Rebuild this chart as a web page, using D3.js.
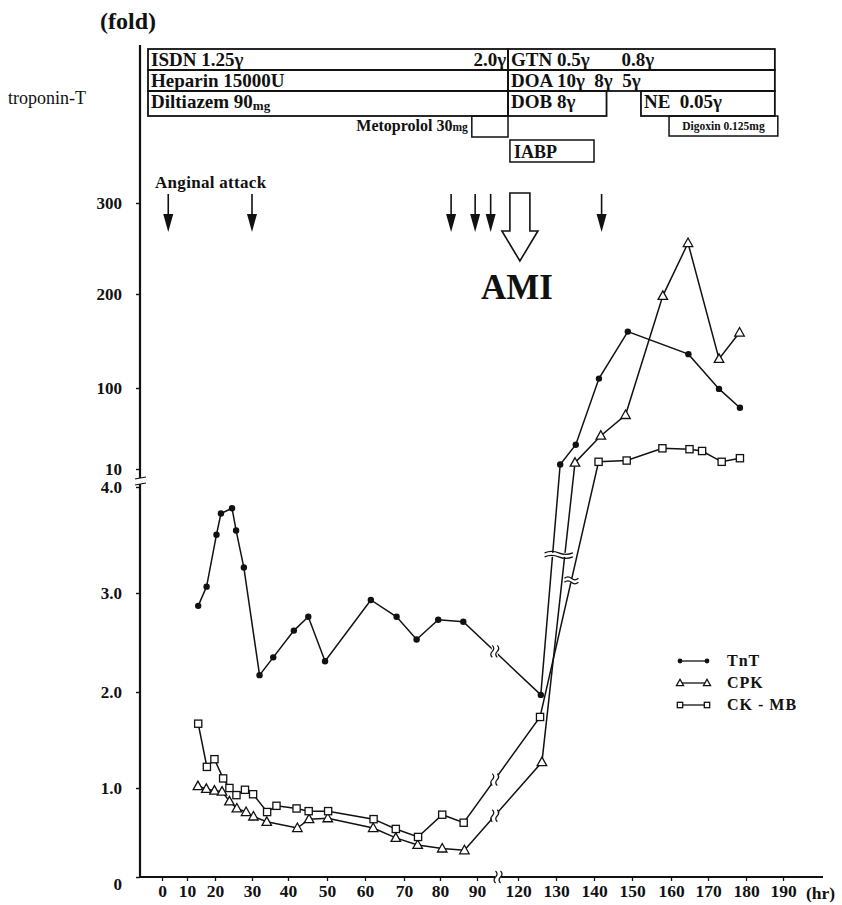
<!DOCTYPE html>
<html><head><meta charset="utf-8">
<script src="https://cdn.jsdelivr.net/npm/d3@7"></script>
<style>
body{margin:0;background:#fff}
svg{display:block}
text{font-family:"Liberation Serif","Times New Roman",serif;fill:#111}
.pre{white-space:pre}
</style>
</head><body>
<svg id="chart" width="842" height="905"></svg>
<script>
// ---- data -------------------------------------------------------------
const hourTicks = [0,10,20,30,40,50,60,70,80,90,120,130,140,150,160,170,180,190];
const foldTicks = [0,1,2,3,4,10,100,200,300];

const tntHours  = [14,17,20.4,21.6,24.6,25.7,27.8,32.1,35.9,41.5,45.2,49.5,61.5,68.1,73.5,79.5,86.3,126,131.1,135.2,141.3,148.9,164.7,172.9,178.4];
const tntValues = [2.87,3.06,3.55,3.75,3.80,3.59,3.24,2.17,2.35,2.62,2.76,2.31,2.93,2.76,2.53,2.73,2.71,1.97,15,37,110,160,136,99,78];

const cpkHours  = [13.9,16.9,19.8,21.9,23.9,25.9,28.4,30.4,34.1,42.4,45.4,50.2,62.1,67.9,73.8,80.6,86.6,126.3,135,141.8,148.3,157.9,164.6,172.9,178.3];
const cpkValues = [1.02,0.99,0.97,0.96,0.85,0.77,0.73,0.68,0.62,0.55,0.65,0.66,0.55,0.44,0.36,0.32,0.30,1.27,17,47,70,198,256,131,159];

const ckmbHours  = [14,17.1,19.8,22.2,23.9,25.8,28.1,30.3,34.2,36.8,42.2,45.3,50.3,62.2,67.9,73.9,80.6,86.4,125.8,141.2,148.6,157.8,165,168.4,173.6,178.4];
const ckmbValues = [1.67,1.22,1.30,1.10,1.0,0.92,0.98,0.93,0.73,0.80,0.77,0.74,0.74,0.65,0.54,0.45,0.70,0.61,1.74,18,19.4,33,32,30,18,22];

const seriesNames = ["TnT","CPK","CK - MB"];

// anginal attacks and the onset of AMI (hr)
const attackHours = [2.5,30,83,89.5,100,142];
const amiHour = 120.5;

// treatment bars (hr): row index, start, end, label parts
const infusions = [
  {row:0, from:-5.6, to:112.7, label:"ISDN 1.25γ", endLabel:"2.0γ"},
  {row:0, from:112.7, to:187.8, label:"GTN 0.5γ", stepLabel:"0.8γ", stepAt:143},
  {row:1, from:-5.6, to:112.7, label:"Heparin 15000U"},
  {row:1, from:112.7, to:187.8, label:"DOA 10γ  8γ  5γ"},
  {row:2, from:-5.6, to:112.7, label:"Diltiazem 90", unit:"mg"},
  {row:2, from:112.7, to:143.3, label:"DOB 8γ"},
  {row:2, from:152.3, to:187.8, label:"NE  0.05γ"}
];
const metoprolol = {from:88.6, to:112.7, label:"Metoprolol 30", unit:"mg"};
const digoxin = {from:159.5, to:188.6, label:"Digoxin 0.125mg"};
const iabp = {from:114.1, to:140, label:"IABP"};

const xBreakHour = 105.4;   // gap on the time axis
const lineBreakHour = 103;  // where the series cross the time gap
const yBreakFold = 6;       // gap on the fold axis

// ---- scales ----------------------------------------------------------
const svg = d3.select("#chart");
const x = d3.scaleLinear().domain(hourTicks)
  .range([162,187,215,252,288,327,365,404,440,477,518,556,594,632,671,708,746,783]);
const y = d3.scaleLinear().domain(foldTicks)
  .range([877,788,692,593,487,469,388,294,203]);

const axisX0 = 140, axisY0 = 877;

// ---- axes ------------------------------------------------------------
const fmt = d => d >= 10 || d === 0 ? String(d) : d.toFixed(1);
const yAxis = svg.append("g").attr("transform",`translate(${axisX0},0)`)
  .call(d3.axisLeft(y).tickValues(foldTicks).tickSize(4).tickPadding(14).tickFormat(fmt));
yAxis.select(".domain").remove();
yAxis.selectAll(".tick line").attr("stroke","#111").attr("stroke-width",1.4);
yAxis.selectAll(".tick text").attr("font-size",17).attr("font-weight","bold")
  .attr("font-family","Liberation Serif, serif").attr("fill","#111");
yAxis.selectAll(".tick").filter(d => d === 0).select("text").attr("dy","0.75em");

const xAxis = svg.append("g").attr("transform",`translate(0,${axisY0})`)
  .call(d3.axisBottom(x).tickValues(hourTicks).tickSize(4).tickPadding(4).tickFormat(d => d));
xAxis.select(".domain").remove();
xAxis.selectAll(".tick line").attr("stroke","#111").attr("stroke-width",1.3);
xAxis.selectAll(".tick text").attr("font-size",17.5).attr("font-weight","bold")
  .attr("font-family","Liberation Serif, serif").attr("fill","#111");

svg.append("line").attr("x1",axisX0).attr("x2",axisX0).attr("y1",45).attr("y2",axisY0)
  .attr("stroke","#111").attr("stroke-width",2.2);
svg.append("line").attr("x1",axisX0-1).attr("x2",823).attr("y1",axisY0).attr("y2",axisY0)
  .attr("stroke","#111").attr("stroke-width",2.2);
svg.append("text").attr("x",806).attr("y",axisY0+22).attr("font-size",17.5)
  .attr("font-weight","bold").text("(hr)");

// gap mark on the fold axis
const yb = y(yBreakFold);
svg.append("rect").attr("x",axisX0-3).attr("y",yb-3).attr("width",6).attr("height",6).attr("fill","#fff");
[-3,3].forEach(dy => svg.append("line").attr("x1",axisX0-5).attr("x2",axisX0+6)
  .attr("y1",yb+dy+1).attr("y2",yb+dy-1).attr("stroke","#111").attr("stroke-width",1.2));

// wavy gap marks
function vBreak(cx, cy, h) {
  svg.append("rect").attr("x",cx-3).attr("y",cy-h/2).attr("width",6).attr("height",h).attr("fill","#fff");
  [-2.5,2.5].forEach(dx => svg.append("path")
    .attr("d",`M${cx+dx},${cy-h/2} q3,${h/4} 0,${h/2} q-3,${h/4} 0,${h/2}`)
    .attr("fill","none").attr("stroke","#111").attr("stroke-width",1.2));
}
function hBreak(xa, xb, cy) {
  const w = xb - xa;
  svg.append("rect").attr("x",xa).attr("y",cy-2).attr("width",w).attr("height",4).attr("fill","#fff");
  [-2,2].forEach(dy => svg.append("path")
    .attr("d",`M${xa},${cy+dy} q${w/4},-3 ${w/2},0 t${w/2},0`)
    .attr("fill","none").attr("stroke","#111").attr("stroke-width",1.2));
}
vBreak(x(xBreakHour), axisY0, 12);

// ---- series ----------------------------------------------------------
const series = [
  {name:seriesNames[0], hours:tntHours, values:tntValues, mark:"dot"},
  {name:seriesNames[1], hours:cpkHours, values:cpkValues, mark:"tri"},
  {name:seriesNames[2], hours:ckmbHours, values:ckmbValues, mark:"sq"}
];
series.forEach(s => s.pts = s.hours.map((h,i) => [x(h), y(s.values[i])]));

const line = d3.line();
series.forEach(s => svg.append("path").attr("d",line(s.pts))
  .attr("fill","none").attr("stroke","#111").attr("stroke-width",1.5));

// position on a polyline at a given x or y pixel
function atX(pts, px){ for(let i=1;i<pts.length;i++){const a=pts[i-1],b=pts[i];
  if((a[0]-px)*(b[0]-px)<=0){const t=(px-a[0])/(b[0]-a[0]);return a[1]+t*(b[1]-a[1]);}} return null; }
function atY(pts, py){ for(let i=1;i<pts.length;i++){const a=pts[i-1],b=pts[i];
  if(a[0]>x(100) && (a[1]-py)*(b[1]-py)<=0){const t=(py-a[1])/(b[1]-a[1]);return a[0]+t*(b[0]-a[0]);}} return null; }

// time gap on each curve
const lbx = x(lineBreakHour);
series.forEach(s => vBreak(lbx, atX(s.pts,lbx), 12));
// fold gap on the rising limbs
const yMain = y(3.36), yMb = y(3.12);
const xt = atY(series[0].pts,yMain), xc = atY(series[1].pts,yMain);
hBreak(xt-8, xc+8, yMain);
const xm = atY(series[2].pts,yMb);
hBreak(xm-7, xm+7, yMb);

// markers
function marker(g, kind, cx, cy, scale=1){
  if(kind==="dot") g.append("circle").attr("cx",cx).attr("cy",cy).attr("r",3.2*scale).attr("fill","#111");
  else if(kind==="tri"){ const r=5*scale;
    g.append("path").attr("d",`M${cx},${cy-r} L${cx+r*0.95},${cy+r*0.7} L${cx-r*0.95},${cy+r*0.7}Z`)
      .attr("fill","#fff").attr("stroke","#111").attr("stroke-width",1.3);}
  else { const r=3.6*scale;
    g.append("rect").attr("x",cx-r).attr("y",cy-r).attr("width",2*r).attr("height",2*r)
      .attr("fill","#fff").attr("stroke","#111").attr("stroke-width",1.3);}
}
const mg = svg.append("g");
series.forEach(s => s.pts.forEach(p => marker(mg, s.mark, p[0], p[1])));

// legend
const legX = 680, legY = 661;
series.forEach((s,i) => {
  const yy = legY + i*22;
  svg.append("line").attr("x1",legX).attr("x2",legX+27).attr("y1",yy).attr("y2",yy)
    .attr("stroke","#111").attr("stroke-width",1.3);
  marker(svg, s.mark, legX, yy, 0.75); marker(svg, s.mark, legX+27, yy, 0.75);
  svg.append("text").attr("x",legX+47).attr("y",yy+5).attr("font-size",16)
    .attr("font-weight","bold").attr("letter-spacing",1).text(s.name);
});

// ---- annotations -----------------------------------------------------
svg.append("text").attr("x",100).attr("y",29).attr("font-size",24).attr("font-weight","bold").text("(fold)");
svg.append("text").attr("x",8).attr("y",104).attr("font-size",18).text("troponin-T");

const rowTop = [49,70,91], rowBottom = [70,91,116];
const box = svg.append("g");
infusions.forEach(d => {
  const x0 = x(d.from), x1 = x(d.to), t = rowTop[d.row], b = rowBottom[d.row];
  box.append("rect").attr("x",x0).attr("y",t).attr("width",x1-x0).attr("height",b-t)
    .attr("fill","none").attr("stroke","#111").attr("stroke-width",1.8);
  const tx = box.append("text").attr("class","pre").attr("x",x0+3).attr("y",t+17)
    .attr("font-size",19).attr("font-weight","bold").text(d.label);
  if(d.unit) tx.append("tspan").attr("font-size",13).attr("dy",2).text(d.unit);
  if(d.endLabel) box.append("text").attr("x",x1-2).attr("y",t+17).attr("text-anchor","end")
    .attr("font-size",19).attr("font-weight","bold").text(d.endLabel);
  if(d.stepLabel) box.append("text").attr("x",x(d.stepAt)+16).attr("y",t+17)
    .attr("font-size",19).attr("font-weight","bold").text(d.stepLabel);
});
// metoprolol
box.append("rect").attr("x",x(metoprolol.from)).attr("y",116).attr("width",x(metoprolol.to)-x(metoprolol.from))
  .attr("height",21).attr("fill","none").attr("stroke","#111").attr("stroke-width",1.5);
const mt = box.append("text").attr("x",x(metoprolol.from)-4).attr("y",131).attr("text-anchor","end")
  .attr("font-size",16).attr("font-weight","bold").text(metoprolol.label);
mt.append("tspan").attr("font-size",11.5).text(metoprolol.unit);
// digoxin
box.append("rect").attr("x",x(digoxin.from)).attr("y",116).attr("width",x(digoxin.to)-x(digoxin.from))
  .attr("height",20).attr("fill","none").attr("stroke","#111").attr("stroke-width",1.5);
box.append("text").attr("x",(x(digoxin.from)+x(digoxin.to))/2).attr("y",130).attr("text-anchor","middle")
  .attr("font-size",11.5).attr("font-weight","bold").text(digoxin.label);
// IABP
box.append("rect").attr("x",x(iabp.from)).attr("y",140).attr("width",x(iabp.to)-x(iabp.from))
  .attr("height",22).attr("fill","none").attr("stroke","#111").attr("stroke-width",1.5);
box.append("text").attr("x",x(iabp.from)+4).attr("y",158).attr("font-size",18).attr("font-weight","bold").text(iabp.label);

// anginal attacks
svg.append("text").attr("x",155).attr("y",188).attr("font-size",17).attr("font-weight","bold")
  .attr("letter-spacing",0.3).text("Anginal attack");
attackHours.forEach(h => {
  const cx = x(h);
  svg.append("line").attr("x1",cx).attr("x2",cx).attr("y1",194).attr("y2",216).attr("stroke","#111").attr("stroke-width",1.6);
  svg.append("path").attr("d",`M${cx-5},${214} L${cx+5},${214} L${cx},${232}Z`).attr("fill","#111");
});
// AMI arrow
const ax = x(amiHour);
svg.append("path").attr("d",`M${ax-10},193 L${ax+10},193 L${ax+10},231 L${ax+18},231 L${ax},261 L${ax-18},231 L${ax-10},231Z`)
  .attr("fill","#fff").attr("stroke","#111").attr("stroke-width",1.6);
svg.append("text").attr("x",ax-3).attr("y",299).attr("text-anchor","middle").attr("font-size",35)
  .attr("font-weight","bold").text("AMI");
</script>
</body></html>
